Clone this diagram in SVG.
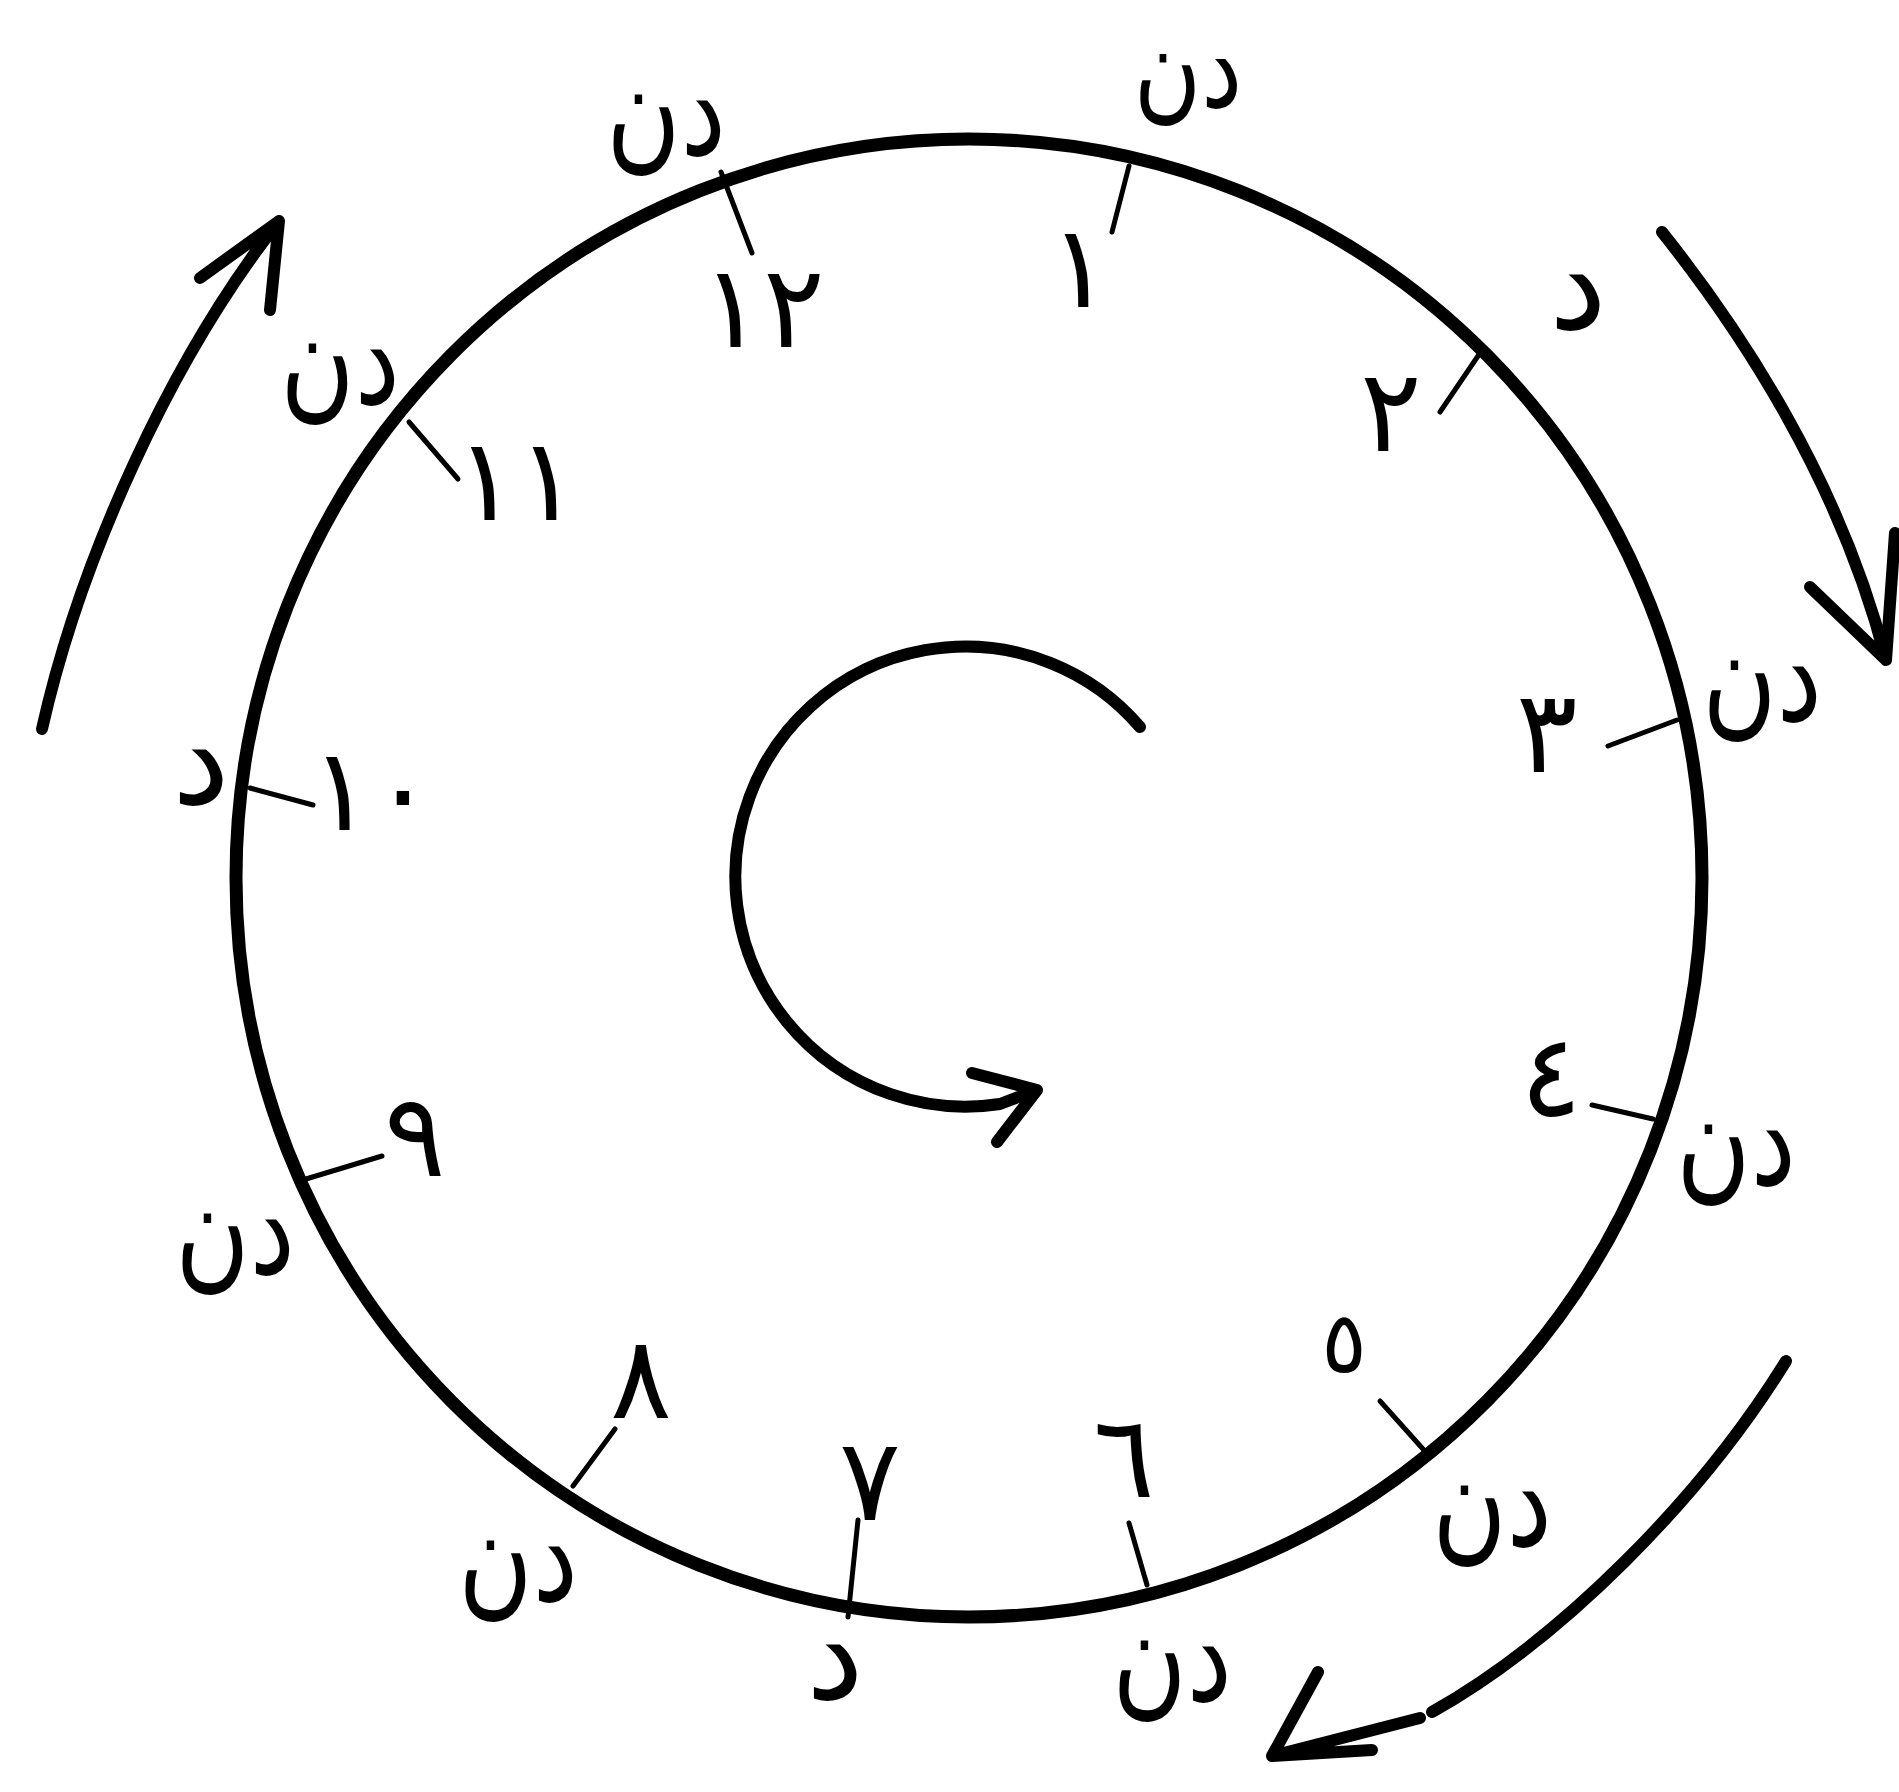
<svg xmlns="http://www.w3.org/2000/svg" width="1899" height="1792" viewBox="0 0 1899 1792">
<style>
.bg{fill:#fff}
.ring{fill:none;stroke:#000;stroke-width:13}
.tick{fill:none;stroke:#000;stroke-width:5;stroke-linecap:round}
.arrow{fill:none;stroke:#000;stroke-width:12;stroke-linecap:round;stroke-linejoin:round}
.lbl{font-family:"DejaVu Sans","Noto Sans",sans-serif;font-size:130px;fill:#000;text-anchor:middle}
.num{font-family:"DejaVu Sans","Noto Sans",sans-serif;font-size:115px;fill:#000;text-anchor:middle}
</style>
<rect class="bg" x="0" y="0" width="1899" height="1792"/>
<g id="ring"><ellipse class="ring" cx="969" cy="878" rx="733" ry="739"/></g>

<g id="pos1"><line class="tick" x1="1129" y1="166" x2="1112" y2="232"/><text class="num" x="1080" y="307">١</text><text class="lbl" transform="translate(1188,107) scale(0.8,1)" style="font-size:115px" direction="rtl">دن</text></g>
<g id="pos2"><line class="tick" x1="1480" y1="353" x2="1440" y2="412"/><text class="num" x="1391" y="451">٢</text><text class="lbl" x="1578" y="329" direction="rtl">د</text></g>
<g id="pos3"><line class="tick" x1="1677" y1="720" x2="1608" y2="746"/><text class="num" x="1547" y="772">٣</text><text class="lbl" transform="translate(1762,721) scale(0.78,1)" direction="rtl">دن</text></g>
<g id="pos4"><line class="tick" x1="1653" y1="1119" x2="1592" y2="1105"/><text class="num" x="1551" y="1116">٤</text><text class="lbl" transform="translate(1736,1185) scale(0.78,1)" direction="rtl">دن</text></g>
<g id="pos5"><line class="tick" x1="1423" y1="1449" x2="1380" y2="1401"/><text class="num" x="1344" y="1372" style="font-size:85px">٥</text><text class="lbl" transform="translate(1492,1546) scale(0.78,1)" direction="rtl">دن</text></g>
<g id="pos6"><line class="tick" x1="1147" y1="1585" x2="1129" y2="1523"/><text class="num" x="1124" y="1497">٦</text><text class="lbl" transform="translate(1172,1701) scale(0.78,1)" direction="rtl">دن</text></g>
<g id="pos7"><line class="tick" x1="848" y1="1617" x2="858" y2="1520"/><text class="num" x="870" y="1520">٧</text><text class="lbl" x="835" y="1699" direction="rtl">د</text></g>
<g id="pos8"><line class="tick" x1="573" y1="1486" x2="615" y2="1429"/><text class="num" x="641" y="1418">٨</text><text class="lbl" transform="translate(518,1601) scale(0.78,1)" direction="rtl">دن</text></g>
<g id="pos9"><line class="tick" x1="306" y1="1179" x2="382" y2="1156"/><text class="num" x="415" y="1176">٩</text><text class="lbl" transform="translate(235,1274) scale(0.78,1)" direction="rtl">دن</text></g>
<g id="pos10"><line class="tick" x1="250" y1="788" x2="313" y2="805"/><text class="num" x="372" y="830" letter-spacing="50">١٠</text><text class="lbl" x="201" y="804" direction="rtl">د</text></g>
<g id="pos11"><line class="tick" x1="409" y1="422" x2="458" y2="479"/><text class="num" x="517" y="520" letter-spacing="26">١١</text><text class="lbl" transform="translate(340,404) scale(0.78,1)" direction="rtl">دن</text></g>
<g id="pos12"><line class="tick" x1="721" y1="172" x2="752" y2="253"/><text class="num" x="763" y="347" letter-spacing="26">١٢</text><text class="lbl" transform="translate(666,155) scale(0.78,1)" direction="rtl">دن</text></g>

<g id="connectors">
<path class="arrow" d="M42,729 C80,560 170,360 279,221 M200,278 L279,221 L270,310"/>
<path class="arrow" d="M1662,232 C1740,330 1840,480 1886,660 M1810,587 L1886,660 L1895,533"/>
<path class="arrow" d="M1786,1361 C1700,1500 1560,1640 1432,1712 M1420,1718 L1272,1756 L1318,1672 M1272,1756 L1372,1750"/>
<path class="arrow" d="M1140,727 A230,230 0 1 0 1000,1104 L1037,1090 M972,1073 L1037,1090 L997,1142"/>
</g>
</svg>
